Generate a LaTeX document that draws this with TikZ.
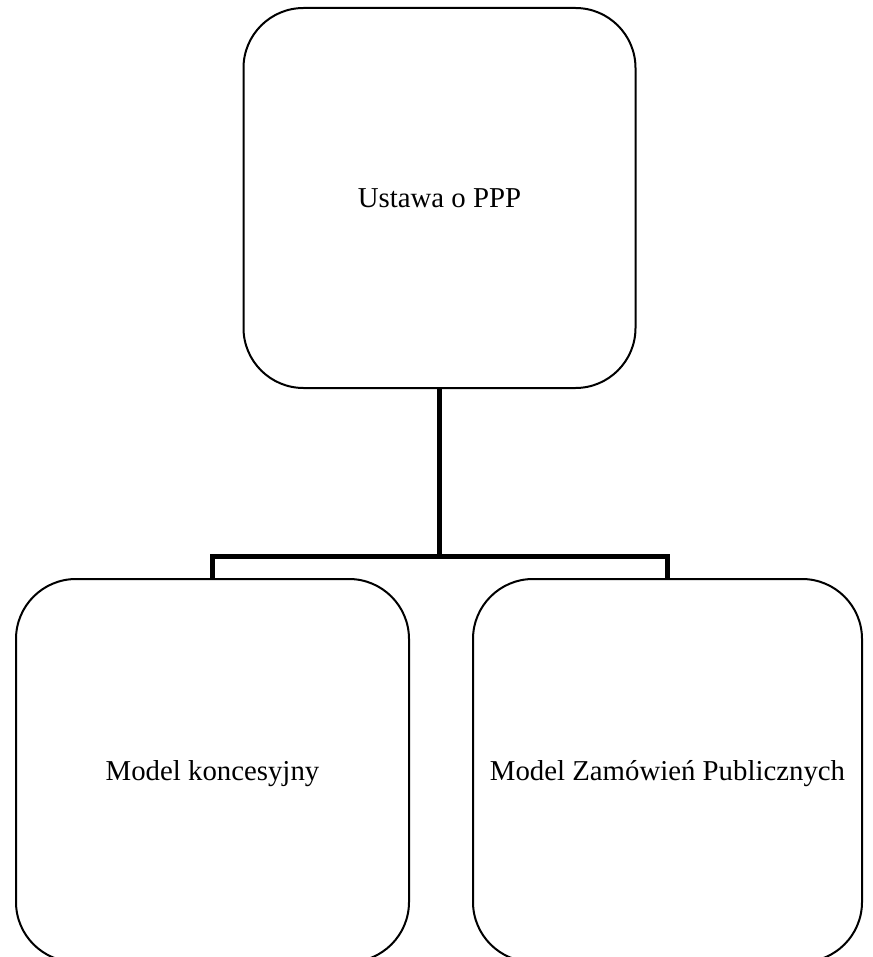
\documentclass[tikz,border=0pt]{standalone}
\usepackage{fontspec}
\setmainfont{Liberation Serif}
\usetikzlibrary{positioning,calc}

\begin{document}
\begin{tikzpicture}[x=1pt, y=-1pt,
    box/.style={draw, line width=2pt, rectangle, rounded corners=60pt, inner sep=0pt,
        minimum width=392pt, minimum height=380pt, align=center,
        font=\fontsize{28.8}{34}\selectfont, text depth=0pt},
    conn/.style={draw, line width=5pt}]
    \useasboundingbox (0,0) rectangle (872,957);
    \node[box] (ustawa) at (439.5,198) {Ustawa o PPP};
    \node[box, minimum width=393pt, minimum height=383pt] (koncesja) at (212.5,770.5) {Model koncesyjny};
    \node[box, minimum width=389pt, minimum height=383pt] (zamowienia) at (667.5,770.5) {Model Zamówień Publicznych};

    \draw[conn] (ustawa.south) -- ++(0,167) coordinate (split);
    \draw[conn] (split) -| (koncesja.north);
    \draw[conn] (split) -| (zamowienia.north);
\end{tikzpicture}
\end{document}
